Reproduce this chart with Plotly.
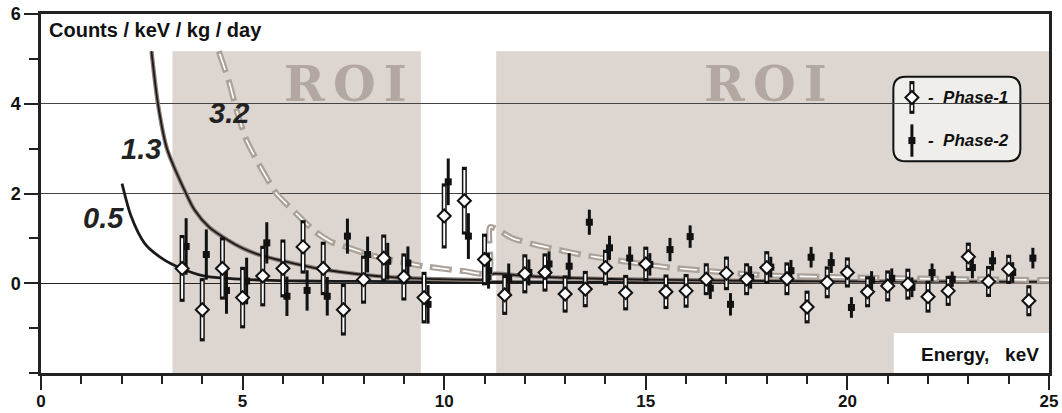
import plotly.graph_objects as go

# ---------------- data ----------------
p1_x = [3.5, 4.0, 4.5, 5.0, 5.5, 6.0, 6.5, 7.0, 7.5, 8.0, 8.5, 9.0, 9.5,
        10.0, 10.5, 11.0, 11.5, 12.0, 12.5, 13.0, 13.5, 14.0, 14.5, 15.0, 15.5,
        16.0, 16.5, 17.0, 17.5, 18.0, 18.5, 19.0, 19.5, 20.0, 20.5, 21.0, 21.5,
        22.0, 22.5, 23.0, 23.5, 24.0, 24.5]
p1_y = [0.33, -0.59, 0.33, -0.32, 0.16, 0.33, 0.81, 0.33, -0.59, 0.08, 0.56, 0.14, -0.32,
        1.50, 1.84, 0.53, -0.26, 0.21, 0.24, -0.24, -0.13, 0.35, -0.21, 0.43, -0.19,
        -0.17, 0.09, 0.22, 0.09, 0.35, 0.10, -0.53, 0.02, 0.24, -0.19, -0.06, -0.02,
        -0.30, -0.17, 0.59, 0.04, 0.31, -0.39]
p1_err = [0.71, 0.67, 0.66, 0.65, 0.64, 0.61, 0.56, 0.56, 0.54, 0.50, 0.49, 0.49, 0.54,
          0.69, 0.72, 0.54, 0.41, 0.40, 0.39, 0.38, 0.37, 0.36, 0.36, 0.35, 0.35,
          0.34, 0.32, 0.34, 0.32, 0.33, 0.33, 0.33, 0.32, 0.30, 0.31, 0.31, 0.31,
          0.32, 0.30, 0.28, 0.31, 0.29, 0.31]

p2_x = [3.6, 4.1, 4.6, 5.1, 5.6, 6.1, 6.6, 7.1, 7.6, 8.1, 8.6, 9.1, 9.6,
        10.1, 10.6, 11.1, 11.6, 12.1, 12.6, 13.1, 13.6, 14.1, 14.6, 15.1, 15.6,
        16.1, 16.6, 17.1, 17.6, 18.1, 18.6, 19.1, 19.6, 20.1, 20.6, 21.1, 21.6,
        22.1, 22.6, 23.1, 23.6, 24.1, 24.6]
p2_y = [0.82, 0.64, -0.16, 0.05, 0.90, -0.29, -0.16, -0.29, 1.05, 0.64, 0.49, 0.45, -0.47,
        2.26, 1.05, 0.28, 0.11, 0.24, 0.43, 0.38, 1.36, 0.79, 0.56, 0.42, 0.75,
        1.04, -0.11, -0.47, 0.13, 0.36, 0.28, 0.58, 0.46, -0.54, 0.07, 0.11, -0.09,
        0.24, 0.09, 0.35, 0.50, 0.24, 0.56]
p2_err = [0.63, 0.56, 0.52, 0.52, 0.46, 0.44, 0.45, 0.43, 0.39, 0.40, 0.41, 0.37, 0.43,
          0.52, 0.51, 0.40, 0.33, 0.29, 0.28, 0.29, 0.28, 0.27, 0.26, 0.25, 0.26,
          0.25, 0.24, 0.25, 0.25, 0.23, 0.24, 0.23, 0.23, 0.23, 0.20, 0.22, 0.22,
          0.20, 0.17, 0.24, 0.22, 0.23, 0.23]

# model curves
c05_x = [2.01, 2.24, 2.57, 2.99, 3.48, 4.06, 4.64, 5.5, 6.5, 8.0, 9.5, 11.0, 15.0, 20.0, 25.0]
c05_y = [2.22, 1.48, 0.89, 0.56, 0.33, 0.16, 0.11, 0.07, 0.05, 0.04, 0.03, 0.03, 0.02, 0.02, 0.02]

c13a_x = [2.74, 2.9, 3.11, 3.23, 3.52, 3.81, 4.17, 4.6, 5.0, 5.46, 6.28, 7.12, 8.76, 9.86, 11.14]
c13a_y = [5.17, 4.0, 3.04, 2.74, 2.15, 1.63, 1.25, 0.98, 0.78, 0.62, 0.44, 0.29, 0.13, 0.09, 0.07]
c13b_x = [11.14, 11.16, 12.0, 13.0, 15.0, 18.0, 21.0, 25.0]
c13b_y = [0.07, 0.20, 0.16, 0.12, 0.08, 0.05, 0.04, 0.03]

c32_x = [4.41, 4.68, 4.85, 5.1, 5.5, 5.84, 6.3, 6.8, 7.2, 7.6, 8.25, 9.0, 9.5, 10.0, 10.5, 11.12,
         11.14, 11.7, 12.3, 12.8, 13.45, 14.0, 15.4, 17.9, 21.3, 25.0]
c32_y = [5.17, 4.44, 3.85, 3.18, 2.5, 2.0, 1.58, 1.15, 0.92, 0.80, 0.61, 0.46, 0.38, 0.32, 0.27, 0.22,
         1.25, 1.0, 0.85, 0.75, 0.63, 0.55, 0.37, 0.18, 0.11, 0.07]

roi_ranges = [(3.26, 9.42), (11.29, 25.0)]
roi_top = 5.17

x_ticks = [0, 5, 10, 15, 20, 25]
y_ticks = [0, 2, 4, 6]

FONT = "Liberation Sans, Arial, sans-serif"
ROI_FILL = "#dcd5d0"
ROI_TEXT = "#b2a8a1"

fig = go.Figure()

# ---- curves ----
fig.add_trace(go.Scatter(x=c05_x, y=c05_y, mode="lines",
                         line=dict(color="#1a1a1a", width=2.8, shape="spline", smoothing=0.8),
                         hoverinfo="skip", showlegend=False))
for cx, cy in [(c13a_x, c13a_y), (c13b_x, c13b_y)]:
    fig.add_trace(go.Scatter(x=cx, y=cy, mode="lines", line=dict(color="#8c7d77", width=4.2, shape="spline", smoothing=0.8),
                             hoverinfo="skip", showlegend=False))
    fig.add_trace(go.Scatter(x=cx, y=cy, mode="lines", line=dict(color="#1a1a1a", width=1.8, shape="spline", smoothing=0.8),
                             hoverinfo="skip", showlegend=False))

fig.add_trace(go.Scatter(x=c32_x, y=c32_y, mode="lines",
                         line=dict(color="#aaa199", width=6, dash="22px,8px", shape="spline", smoothing=0.6),
                         hoverinfo="skip", showlegend=False))
fig.add_trace(go.Scatter(x=c32_x, y=c32_y, mode="lines",
                         line=dict(color="#ffffff", width=1.6, dash="0px,2.5px,17px,10.5px", shape="spline", smoothing=0.6),
                         hoverinfo="skip", showlegend=False))

# ---- data points ----
cap = 1.6 / 44.9  # outline thickness at bar ends (in data units)

def phase2_traces(x, y, err):
    fig.add_trace(go.Scatter(x=x, y=y, mode="markers",
                             marker=dict(symbol="square", size=7, color="#111111", line=dict(width=0)),
                             error_y=dict(type="data", array=err, thickness=3, width=0, color="#111111"),
                             hoverinfo="skip", showlegend=False))

def phase1_traces(x, y, err):
    fig.add_trace(go.Scatter(x=x, y=y, mode="markers", marker=dict(size=1, opacity=0),
                             error_y=dict(type="data", array=[e + cap for e in err], thickness=5, width=0, color="#111111"),
                             hoverinfo="skip", showlegend=False))
    fig.add_trace(go.Scatter(x=x, y=y, mode="markers", marker=dict(size=1, opacity=0),
                             error_y=dict(type="data", array=[e - cap for e in err], thickness=2, width=0, color="#ffffff"),
                             hoverinfo="skip", showlegend=False))
    fig.add_trace(go.Scatter(x=x, y=y, mode="markers",
                             marker=dict(symbol="diamond", size=10, color="#ffffff", line=dict(width=2, color="#111111")),
                             hoverinfo="skip", showlegend=False))

phase2_traces(p2_x, p2_y, p2_err)
phase1_traces(p1_x, p1_y, p1_err)

# ---- legend (custom box) ----
lx0, lx1, ly0, ly1 = 21.14, 24.29, 2.72, 4.6
rx, ry = 0.3, 0.28
legend_path = (f"M {lx0+rx},{ly1} L {lx1-rx},{ly1} Q {lx1},{ly1} {lx1},{ly1-ry} "
               f"L {lx1},{ly0+ry} Q {lx1},{ly0} {lx1-rx},{ly0} L {lx0+rx},{ly0} "
               f"Q {lx0},{ly0} {lx0},{ly0+ry} L {lx0},{ly1-ry} Q {lx0},{ly1} {lx0+rx},{ly1} Z")

phase1_traces([21.6], [4.14], [0.33])
phase2_traces([21.6], [3.18], [0.36])

shapes = []
for (a, b) in roi_ranges:
    shapes.append(dict(type="rect", xref="x", yref="y", x0=a, x1=b, y0=-2, y1=roi_top,
                       fillcolor=ROI_FILL, line=dict(width=0), layer="below"))
shapes.append(dict(type="rect", xref="x", yref="y", x0=21.15, x1=25, y0=-2, y1=-1.11,
                   fillcolor="#ffffff", line=dict(width=0), layer="below"))
shapes.append(dict(type="path", path=legend_path, xref="x", yref="y",
                   fillcolor="#efeeea", line=dict(color="#111111", width=2), layer="below"))

ROI_LABEL = "<b>R\u2006O\u2006I</b>"
annotations = [
    dict(x=0.16, y=5.64, text="<b>Counts / keV / kg / day</b>", xanchor="left", yanchor="middle",
         font=dict(size=20, color="#111111", family=FONT)),
    dict(x=1.55, y=1.45, text="<b><i>0.5</i></b>", font=dict(size=29, color="#222222", family=FONT)),
    dict(x=2.47, y=3.0, text="<b><i>1.3</i></b>", font=dict(size=29, color="#222222", family=FONT)),
    dict(x=4.66, y=3.8, text="<b><i>3.2</i></b>", font=dict(size=29, color="#222222", family=FONT)),
    dict(x=7.55, y=4.43, text=ROI_LABEL, font=dict(size=49, color=ROI_TEXT, family="DejaVu Serif, serif")),
    dict(x=17.96, y=4.43, text=ROI_LABEL, font=dict(size=49, color=ROI_TEXT, family="DejaVu Serif, serif")),
    dict(x=24.8, y=-1.58, text="<b>Energy,   keV</b>", xanchor="right", yanchor="middle",
         font=dict(size=19, color="#111111", family=FONT)),
    dict(x=21.95, y=4.14, text="<b><i>-  Phase-1</i></b>", xanchor="left", yanchor="middle",
         font=dict(size=17, color="#111111", family=FONT)),
    dict(x=21.95, y=3.18, text="<b><i>-  Phase-2</i></b>", xanchor="left", yanchor="middle",
         font=dict(size=17, color="#111111", family=FONT)),
]
for a in annotations:
    a.update(xref="x", yref="y", showarrow=False)

fig.update_layout(
    width=1062, height=413, autosize=False,
    margin=dict(l=41, r=13, t=14, b=40, pad=0, autoexpand=False),
    paper_bgcolor="#ffffff", plot_bgcolor="#ffffff",
    font=dict(family=FONT, color="#111111"),
    shapes=shapes, annotations=annotations, showlegend=False,
    xaxis=dict(range=[0, 25], tickvals=x_ticks, ticktext=[str(v) for v in x_ticks], automargin=False,
               showline=True, linewidth=2.5, linecolor="#222222", mirror=True,
               ticks="outside", ticklen=14, tickwidth=2, tickcolor="#222222",
               minor=dict(dtick=1, ticks="outside", ticklen=8, tickwidth=2, tickcolor="#222222", showgrid=False),
               showgrid=False, zeroline=False, ticklabelstandoff=-3,
               tickfont=dict(size=17, family=FONT, color="#111111", weight="bold")),
    yaxis=dict(range=[-2, 6], tickvals=y_ticks, ticktext=[str(v) for v in y_ticks], automargin=False,
               showline=True, linewidth=2.5, linecolor="#222222", mirror=True,
               ticks="outside", ticklen=14, tickwidth=2, tickcolor="#222222",
               minor=dict(dtick=1, ticks="outside", ticklen=9, tickwidth=2, tickcolor="#222222", showgrid=False),
               showgrid=True, gridcolor="#444444", gridwidth=1,
               zeroline=True, zerolinecolor="#222222", zerolinewidth=1,
               tickfont=dict(size=18, family=FONT, color="#111111", weight="bold")),
)

fig.write_html("out.html", config={"displayModeBar": False},
               post_script="document.body.style.margin='0';")
